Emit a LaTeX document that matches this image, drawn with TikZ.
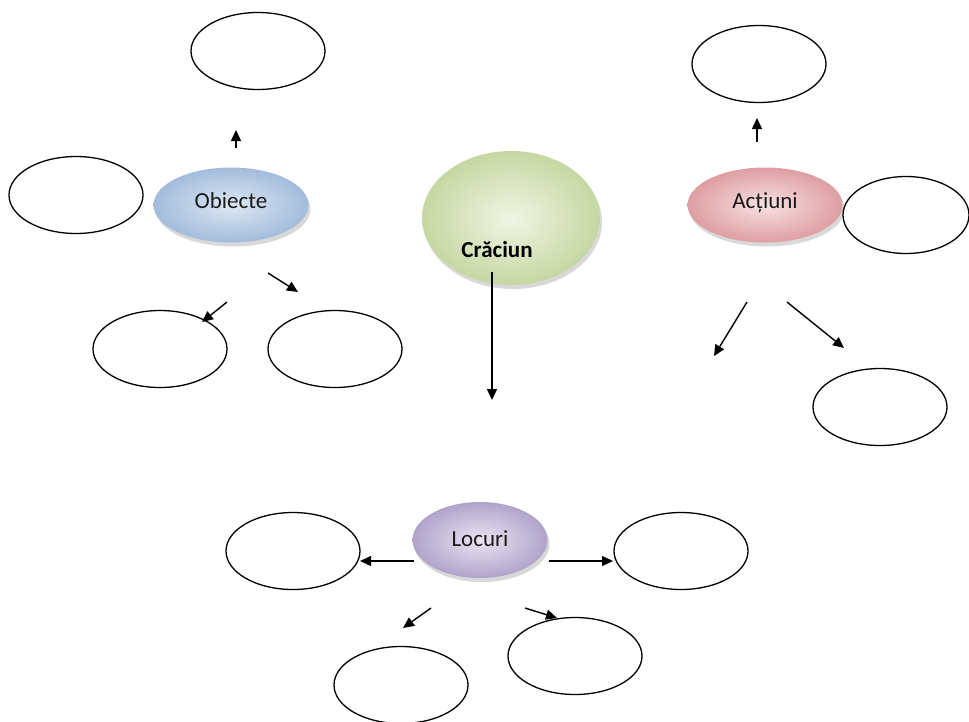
\documentclass[tikz,border=0pt]{standalone}
\usepackage{fontspec}
\setmainfont{Carlito}
\usepackage{tikz}
\usetikzlibrary{arrows.meta,shapes.geometric,shadows}
\definecolor{blueIn}{HTML}{DDE7F3}
\definecolor{blueOut}{HTML}{A3BCDC}
\definecolor{redIn}{HTML}{F8E1E2}
\definecolor{redOut}{HTML}{DE9EA2}
\definecolor{greenIn}{HTML}{F0F5E4}
\definecolor{greenOut}{HTML}{C6D7A2}
\definecolor{violIn}{HTML}{EAE5F2}
\definecolor{violOut}{HTML}{B0A3CB}

\begin{document}
\begin{tikzpicture}[
  x=1pt, y=-1pt,
  blank/.style={ellipse, draw=black, line width=1.3pt, fill=white, minimum width=134pt, minimum height=77pt, inner sep=0pt},
  topic/.style={ellipse, minimum width=155pt, minimum height=75pt, inner sep=0pt, shading=radial,
    font=\fontsize{23}{27}\selectfont, text=black!90, text depth=8pt,
    drop shadow={shadow xshift=2pt, shadow yshift=-4pt, fill=black!30}},
  arr/.style={-{Triangle[length=11pt,width=10pt]}, line width=1.4pt}
]
\useasboundingbox (0,0) rectangle (969,721);

% Obiecte (blue)
\node[topic, inner color=blueIn, outer color=blueOut] (obiecte) at (231,205) {Obiecte};
\node[blank] (o1) at (258,51) {};
\node[blank] (o2) at (76,195) {};
\node[blank] (o3) at (160,349) {};
\node[blank] (o4) at (335,349) {};
\coordinate (oa1) at (236,148); \coordinate (ob1) at (236,130);
\coordinate (oa2) at (227,302); \coordinate (ob2) at (202,322);
\coordinate (oa3) at (268,273); \coordinate (ob3) at (298,292);
\draw[arr] (oa1) -- (ob1);
\draw[arr] (oa2) -- (ob2);
\draw[arr] (oa3) -- (ob3);

% Craciun (green)
\node[topic, inner color=greenIn, outer color=greenOut, minimum width=178pt, minimum height=134pt] (craciun) at (511,218) {};
\node[font=\fontsize{23}{27}\selectfont\bfseries] (ctext) at (497,250) {Crăciun};
\coordinate (ca) at (492,272); \coordinate (cb) at (492,400);
\draw[arr] (ca) -- (cb);

% Actiuni (red)
\node[topic, inner color=redIn, outer color=redOut] (actiuni) at (765,205) {Acțiuni};
\node[blank] (a1) at (759,64) {};
\node[blank, minimum width=126pt] (a2) at (906,215) {};
\node[blank] (a3) at (880,407) {};
\coordinate (aa1) at (757,142); \coordinate (ab1) at (757,118);
\coordinate (aa2) at (747,302); \coordinate (ab2) at (714,356);
\coordinate (aa3) at (787,302); \coordinate (ab3) at (844,348);
\draw[arr] (aa1) -- (ab1);
\draw[arr] (aa2) -- (ab2);
\draw[arr] (aa3) -- (ab3);

% Locuri (violet)
\node[topic, inner color=violIn, outer color=violOut, minimum width=135pt, minimum height=76pt, text depth=3pt] (locuri) at (480,540) {Locuri};
\node[blank] (l1) at (293,551) {};
\node[blank] (l2) at (681,551) {};
\node[blank] (l3) at (401,685) {};
\node[blank] (l4) at (575,656) {};
\coordinate (la1) at (414,561); \coordinate (lb1) at (360,561);
\coordinate (la2) at (549,561); \coordinate (lb2) at (613,561);
\coordinate (la3) at (431,608); \coordinate (lb3) at (403,628);
\coordinate (la4) at (525,608); \coordinate (lb4) at (557,618);
\draw[arr] (la1) -- (lb1);
\draw[arr] (la2) -- (lb2);
\draw[arr] (la3) -- (lb3);
\draw[arr] (la4) -- (lb4);
\end{tikzpicture}
\end{document}
